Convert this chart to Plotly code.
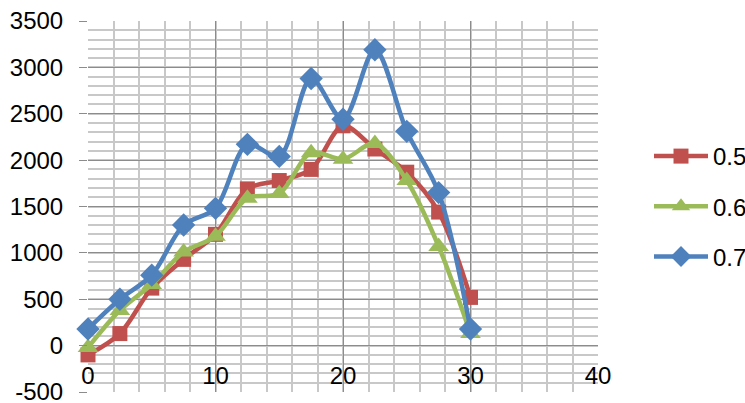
import plotly.graph_objects as go

x_vals = [0, 2.5, 5, 7.5, 10, 12.5, 15, 17.5, 20, 22.5, 25, 27.5, 30]
s05 = [-100, 130, 620, 930, 1200, 1690, 1780, 1900, 2370, 2120, 1870, 1440, 520]
s06 = [-20, 380, 660, 1010, 1180, 1590, 1640, 2080, 2010, 2180, 1780, 1070, 130]
s07 = [180, 500, 760, 1300, 1480, 2170, 2040, 2880, 2440, 3190, 2310, 1650, 180]
names = ["0.5", "0.6", "0.7"]
colors = ["#C0504D", "#9BBB59", "#4F81BD"]
symbols = ["square", "triangle-up", "diamond"]
msizes = [15, 18, 18]
x_ticks = [0, 10, 20, 30, 40]
y_ticks = [-500, 0, 500, 1000, 1500, 2000, 2500, 3000, 3500]

FONT = "Liberation Sans"
FS = 24

fig = go.Figure()
for i, ys in enumerate([s05, s06, s07]):
    fig.add_trace(go.Scatter(
        x=x_vals, y=ys, name=names[i], mode="lines+markers",
        line=dict(color=colors[i], width=4.5, shape="spline", smoothing=0.9),
        marker=dict(symbol=symbols[i], size=msizes[i], color=colors[i],
                    line=dict(width=0)),
        legendgroup=names[i], cliponaxis=False,
    ))

fig.update_layout(
    width=745, height=403,
    margin=dict(l=88, r=147, t=21, b=11, autoexpand=False),
    paper_bgcolor="white", plot_bgcolor="white",
    font=dict(family=FONT, size=FS, color="black"),
    legend=dict(x=1.1, xanchor="left", y=0.5, yanchor="middle",
                xref="paper", yref="paper",
                font=dict(size=FS), tracegroupgap=16, traceorder="grouped",
                itemwidth=54, bgcolor="rgba(0,0,0,0)"),
    showlegend=True,
)

fig.update_xaxes(
    range=[0, 40], tickvals=x_ticks, ticktext=[str(v) for v in x_ticks],
    showgrid=True, gridcolor="#8c8c8c", gridwidth=1.3,
    minor=dict(dtick=2, tick0=0, showgrid=True, gridcolor="#c8c8c8", gridwidth=1.5),
    zeroline=False, showline=False, ticks="", automargin=False,
    ticklabelposition="inside", ticklabelstandoff=0, ticklabeloverflow="allow",
    tickfont=dict(family=FONT, size=FS, color="black"),
)
fig.update_yaxes(
    range=[-500, 3500], tickvals=y_ticks, ticktext=[str(v) for v in y_ticks],
    showgrid=True, gridcolor="#8c8c8c", gridwidth=1.3,
    minor=dict(dtick=100, tick0=0, showgrid=True, gridcolor="#c8c8c8", gridwidth=1.5),
    zeroline=False, showline=False, ticks="outside", ticklen=8, tickcolor="#8c8c8c",
    ticklabelstandoff=11, ticklabeloverflow="allow", automargin=False,
    tickfont=dict(family=FONT, size=FS, color="black"),
)

fig.write_html("out.html")
